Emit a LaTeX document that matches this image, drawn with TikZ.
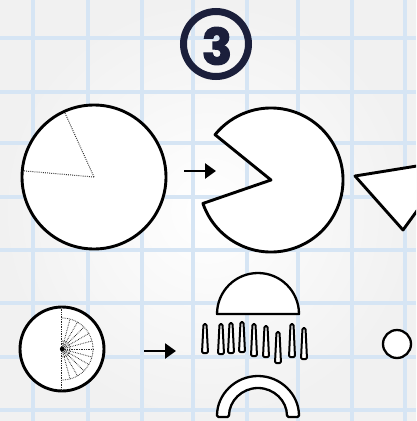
\documentclass[tikz,border=0pt]{standalone}
\usepackage{fontspec}
\newfontfamily\numfont{Poppins}[BoldFeatures={FakeBold=2.5}]
\usetikzlibrary{arrows.meta}
\definecolor{paper}{HTML}{F1F1F1}
\definecolor{gridblue}{HTML}{D6E5F4}
\definecolor{navy}{HTML}{1B1F3B}
\tikzset{
  gridline/.style={gridblue, line width=3.5pt},
  figshape/.style={draw=black, fill=white, line width=2.9pt, line join=round},
  thinshape/.style={draw=black, fill=white, line width=2.3pt, line join=round},
  cutline/.style={black!80, line width=1pt, dash pattern=on 0.9pt off 1.2pt},
  fanline/.style={black!85, line width=0.8pt, dash pattern=on 0.7pt off 1.0pt},
  sliver/.style={draw=black, fill=white, line width=2pt, rounded corners=1.3pt, line join=round},
  flow/.style={-{Triangle[length=11pt,width=15pt]}, line width=2.6pt, black},
}
\begin{document}
\begin{tikzpicture}[x=1pt,y=-1pt]
\useasboundingbox (0,0) rectangle (416,421);
\clip (0,0) rectangle (416,421);
\shade[inner color=white, outer color=paper] (0,0) rectangle (416,421);
% grid
\foreach \gx in {33,88,142,193,247,298,352,405} \draw[gridline] (\gx,0) -- (\gx,421);
\foreach \gy in {38,92,143,197,250,303,357,410} \draw[gridline] (0,\gy) -- (416,\gy);
% step badge
\draw[navy, line width=7pt] (216,44) circle[radius=32.5];
\node[navy, inner sep=0pt] (badge) at (217,46) {\numfont\bfseries\fontsize{50}{50}\selectfont 3};
% big circle with cut
\draw[figshape] (94,177) circle[radius=72];
\coordinate (pc) at (94,177);
\draw[cutline] (pc) -- ++(245.6:71);
\draw[cutline] (pc) -- ++(185:71);
% arrow 1
\coordinate (a1s) at (184,171);
\coordinate (a1e) at (216,171);
\draw[flow] (a1s) -- (a1e);
% pacman
\coordinate (pm) at (271,180);
\draw[figshape] (pm) -- ++(161:72) arc[start angle=161, end angle=-141, radius=72] -- cycle;
% removed wedge (triangle)
\draw[figshape] (355,176) -- (454,160) -- (403,230) -- cycle;
% small circle with fan
\coordinate (sc) at (62,349);
\draw[figshape] (sc) circle[radius=42];
\draw[fanline] (61,307) -- (61,391);
\foreach \a in {-75,-60,...,75} \draw[fanline] (sc) -- ++(\a:31);
\draw[fanline] (62,318) arc[start angle=-90, end angle=90, radius=31];
\foreach \r in {3,5.5,8} \draw[fanline] (62,349-\r) arc[start angle=-90, end angle=90, radius=\r];
\fill[black] (sc) circle[radius=2.2];
% arrow 2
\coordinate (a2s) at (144,351);
\coordinate (a2e) at (176,351);
\draw[flow] (a2s) -- (a2e);
% half disc
\draw[thinshape] (217,314) arc[start angle=180, end angle=360, radius=41] -- cycle;
% slivers
\foreach \sx/\st/\sb in {205/324/353, 221/324/354, 231/323/353, 242/322/352, 254/324/356, 266/326/357, 278/332/363, 292/324/357, 304/328/359}
  \draw[sliver] (\sx-1.5,\st) -- (\sx-3,\sb) -- (\sx+3,\sb) -- (\sx+1.5,\st) -- cycle;
% arch
\draw[thinshape, rounded corners=1.5pt] (217,417) arc[start angle=180, end angle=360, radius=41] -- (287,417) arc[start angle=360, end angle=180, radius=29] -- cycle;
% small dot circle
\draw[thinshape] (397,344) circle[radius=14];
\end{tikzpicture}
\end{document}
